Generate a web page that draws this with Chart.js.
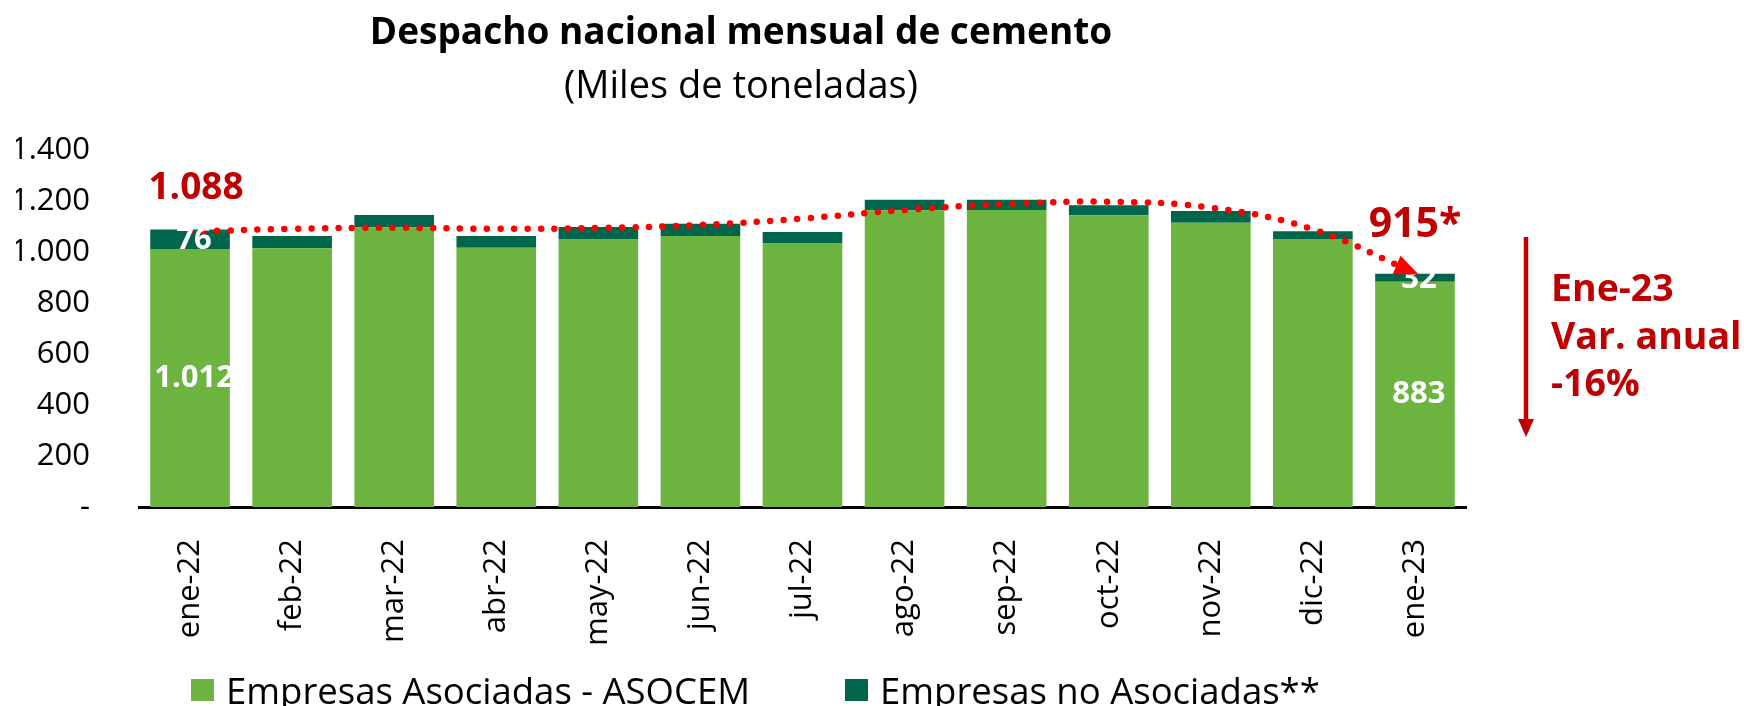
<!DOCTYPE html>
<html><head><meta charset="utf-8">
<script src="https://cdn.jsdelivr.net/npm/chart.js@4/dist/chart.umd.min.js"></script>
<style>
html,body{margin:0;padding:0;background:#fff;}
#wrap{position:relative;width:1744px;height:706px;overflow:hidden;}
#c{position:absolute;left:0;top:0;}
.lg{position:absolute;top:669px;height:42px;display:flex;align-items:center;font-family:'Open Sans',sans-serif;font-size:36.5px;color:#000;white-space:nowrap;}
.lg i{display:inline-block;width:23px;height:22px;margin-right:12px;}
</style></head>
<body><div id="wrap"><canvas id="c" width="1744" height="706"></canvas></div>
<script>
const categories = ['ene-22','feb-22','mar-22','abr-22','may-22','jun-22','jul-22','ago-22','sep-22','oct-22','nov-22','dic-22','ene-23'];
const asociadas   = [1012,1015,1097,1017,1051,1063,1033,1164,1165,1144,1115,1051,883];
const noAsociadas = [76,48,48,46,47,48,45,41,40,39,46,30,32];
const tendencia   = [1080,1091,1095,1091,1094,1106,1131,1165,1188,1197,1174,1089,918];
const yTicks = [0,200,400,600,800,1000,1200,1400];
const seriesNames = ['Empresas Asociadas - ASOCEM','Empresas no Asociadas**'];
const seriesColors = ['#6DB33F','#00664B'];
const titleText = 'Despacho nacional mensual de cemento';
const subtitleText = '(Miles de toneladas)';
const noteLines = ['Ene-23','Var. anual','-16%'];

const RED = '#C00000';
const FONT = "'Open Sans', sans-serif";
function fmt(v){ return v===0 ? '-' : String(Math.round(v)).replace(/\B(?=(\d{3})+(?!\d))/g,'.'); }

// HTML legend
const wrap = document.getElementById('wrap');
const legendX = [191, 845];
seriesNames.forEach((n,i)=>{
  const d = document.createElement('div');
  d.className='lg'; d.style.left = legendX[i]+'px';
  d.innerHTML = '<i style="background:'+seriesColors[i]+'"></i>';
  d.appendChild(document.createTextNode(n));
  wrap.appendChild(d);
});

const labelPlugin = {
  id:'labels',
  afterDatasetsDraw(chart){
    const ctx = chart.ctx;
    const m0 = chart.getDatasetMeta(0), m1 = chart.getDatasetMeta(1), m2 = chart.getDatasetMeta(2);
    const last = categories.length-1;
    ctx.save();
    ctx.textAlign='center'; ctx.textBaseline='middle';
    ctx.fillStyle='#fff'; ctx.font='bold 31px '+FONT;
    [0,last].forEach(i=>{
      const b0=m0.data[i], b1=m1.data[i];
      ctx.fillText(fmt(asociadas[i]), b0.x+4, (b0.y+b0.base)/2);
      ctx.fillText(fmt(noAsociadas[i]), b1.x+4, (b1.y+b1.base)/2+1);
    });
    // totals
    ctx.fillStyle=RED;
    const t0 = asociadas[0]+noAsociadas[0], tl = asociadas[last]+noAsociadas[last];
    ctx.font='bold 37px '+FONT;
    ctx.fillText(fmt(t0), m1.data[0].x+6, m1.data[0].y-41);
    ctx.font='bold 41px '+FONT;
    ctx.fillText(fmt(tl)+'*', m1.data[last].x, m1.data[last].y-48);
    // arrowhead on trend line
    const p = m2.data[last];
    let dx = p.x - p.cp1x, dy = p.y - p.cp1y;
    const L = Math.hypot(dx,dy)||1; dx/=L; dy/=L;
    const tipX = p.x + dx*4, tipY = p.y + dy*4;
    const len=24, w=10;
    ctx.fillStyle='#FF0000';
    ctx.beginPath();
    ctx.moveTo(tipX,tipY);
    ctx.lineTo(tipX-dx*len-dy*w, tipY-dy*len+dx*w);
    ctx.lineTo(tipX-dx*len+dy*w, tipY-dy*len-dx*w);
    ctx.closePath(); ctx.fill();
    // right annotation
    const ca = chart.chartArea;
    const ax = ca.right+60, ay0 = ca.top+87, ay1 = ca.top+287;
    ctx.strokeStyle=RED; ctx.fillStyle=RED; ctx.lineWidth=4.5;
    ctx.beginPath(); ctx.moveTo(ax,ay0); ctx.lineTo(ax,ay1-16); ctx.stroke();
    ctx.beginPath(); ctx.moveTo(ax-8,ay1-18); ctx.lineTo(ax+8,ay1-18); ctx.lineTo(ax,ay1); ctx.closePath(); ctx.fill();
    ctx.textAlign='left'; ctx.textBaseline='alphabetic'; ctx.font='bold 37.5px '+FONT;
    const ys=[151,199,246];
    noteLines.forEach((s,i)=>ctx.fillText(s, ca.right+85, ca.top+ys[i]));
    ctx.restore();
  }
};

new Chart(document.getElementById('c'),{
  data:{
    labels:categories,
    datasets:[
      {type:'bar', label:seriesNames[0], data:asociadas, backgroundColor:seriesColors[0], stack:'s', order:2, barPercentage:0.78, categoryPercentage:1.0},
      {type:'bar', label:seriesNames[1], data:noAsociadas, backgroundColor:seriesColors[1], stack:'s', order:2, barPercentage:0.78, categoryPercentage:1.0},
      {type:'line', label:'tendencia', data:tendencia, borderColor:'#FF0000', borderWidth:6.5, borderDash:[0,13.5], borderCapStyle:'round', pointRadius:0, tension:0.4, fill:false, order:1}
    ]
  },
  options:{
    responsive:false, animation:false, devicePixelRatio:1,
    layout:{padding:{left:16,right:278,top:0,bottom:60}},
    plugins:{
      legend:{display:false}, tooltip:{enabled:false},
      title:{display:true, text:titleText, color:'#000', font:{family:FONT,size:37,weight:'bold'}, padding:{top:11,bottom:0}},
      subtitle:{display:true, text:subtitleText, color:'#000', font:{family:FONT,size:38,weight:'normal'}, padding:{top:9,bottom:40}}
    },
    scales:{
      x:{stacked:true, grid:{display:false}, border:{display:true,color:'#000',width:3},
         ticks:{color:'#000', font:{family:FONT,size:31}, minRotation:90, maxRotation:90, autoSkip:false, padding:24},
         afterFit(s){ s.height=139; }},
      y:{stacked:true, min:0, max:1400, grid:{display:false}, border:{display:false},
         afterBuildTicks(s){ s.ticks = yTicks.map(v=>({value:v})); },
         ticks:{color:'#000', font:{family:FONT,size:31}, padding:41, callback:(v)=>fmt(v)},
         afterFit(s){ s.width=123; }}
    }
  },
  plugins:[labelPlugin]
});
</script>
</body></html>
